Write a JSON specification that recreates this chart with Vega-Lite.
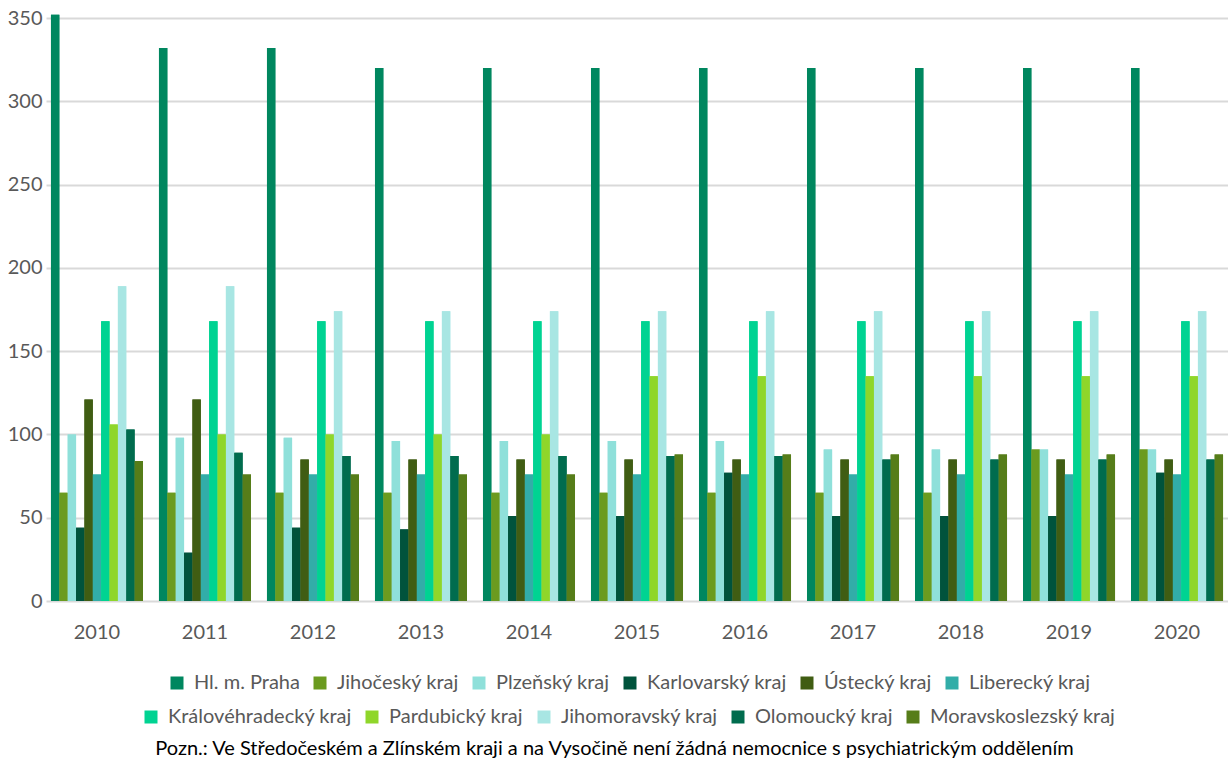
{
  "$schema": "https://vega.github.io/schema/vega-lite/v6.json",
  "width": 1182,
  "height": 583,
  "autosize": {"type": "none"},
  "padding": {"left": 46, "top": 18, "right": 0, "bottom": 159},
  "background": "white",
  "config": {
    "view": {"stroke": null},
    "font": "Lato",
    "axis": {"labelFont": "Lato", "titleFont": "Lato"},
    "legend": {"labelFont": "Lato"}
  },
  "data": {
    "values": [
      {"rok": "2010", "kraj": "Hl. m. Praha", "v": 352},
      {"rok": "2010", "kraj": "Jihočeský kraj", "v": 65},
      {"rok": "2010", "kraj": "Plzeňský kraj", "v": 100},
      {"rok": "2010", "kraj": "Karlovarský kraj", "v": 44},
      {"rok": "2010", "kraj": "Ústecký kraj", "v": 121},
      {"rok": "2010", "kraj": "Liberecký kraj", "v": 76},
      {"rok": "2010", "kraj": "Královéhradecký kraj", "v": 168},
      {"rok": "2010", "kraj": "Pardubický kraj", "v": 106},
      {"rok": "2010", "kraj": "Jihomoravský kraj", "v": 189},
      {"rok": "2010", "kraj": "Olomoucký kraj", "v": 103},
      {"rok": "2010", "kraj": "Moravskoslezský kraj", "v": 84},
      {"rok": "2011", "kraj": "Hl. m. Praha", "v": 332},
      {"rok": "2011", "kraj": "Jihočeský kraj", "v": 65},
      {"rok": "2011", "kraj": "Plzeňský kraj", "v": 98},
      {"rok": "2011", "kraj": "Karlovarský kraj", "v": 29},
      {"rok": "2011", "kraj": "Ústecký kraj", "v": 121},
      {"rok": "2011", "kraj": "Liberecký kraj", "v": 76},
      {"rok": "2011", "kraj": "Královéhradecký kraj", "v": 168},
      {"rok": "2011", "kraj": "Pardubický kraj", "v": 100},
      {"rok": "2011", "kraj": "Jihomoravský kraj", "v": 189},
      {"rok": "2011", "kraj": "Olomoucký kraj", "v": 89},
      {"rok": "2011", "kraj": "Moravskoslezský kraj", "v": 76},
      {"rok": "2012", "kraj": "Hl. m. Praha", "v": 332},
      {"rok": "2012", "kraj": "Jihočeský kraj", "v": 65},
      {"rok": "2012", "kraj": "Plzeňský kraj", "v": 98},
      {"rok": "2012", "kraj": "Karlovarský kraj", "v": 44},
      {"rok": "2012", "kraj": "Ústecký kraj", "v": 85},
      {"rok": "2012", "kraj": "Liberecký kraj", "v": 76},
      {"rok": "2012", "kraj": "Královéhradecký kraj", "v": 168},
      {"rok": "2012", "kraj": "Pardubický kraj", "v": 100},
      {"rok": "2012", "kraj": "Jihomoravský kraj", "v": 174},
      {"rok": "2012", "kraj": "Olomoucký kraj", "v": 87},
      {"rok": "2012", "kraj": "Moravskoslezský kraj", "v": 76},
      {"rok": "2013", "kraj": "Hl. m. Praha", "v": 320},
      {"rok": "2013", "kraj": "Jihočeský kraj", "v": 65},
      {"rok": "2013", "kraj": "Plzeňský kraj", "v": 96},
      {"rok": "2013", "kraj": "Karlovarský kraj", "v": 43},
      {"rok": "2013", "kraj": "Ústecký kraj", "v": 85},
      {"rok": "2013", "kraj": "Liberecký kraj", "v": 76},
      {"rok": "2013", "kraj": "Královéhradecký kraj", "v": 168},
      {"rok": "2013", "kraj": "Pardubický kraj", "v": 100},
      {"rok": "2013", "kraj": "Jihomoravský kraj", "v": 174},
      {"rok": "2013", "kraj": "Olomoucký kraj", "v": 87},
      {"rok": "2013", "kraj": "Moravskoslezský kraj", "v": 76},
      {"rok": "2014", "kraj": "Hl. m. Praha", "v": 320},
      {"rok": "2014", "kraj": "Jihočeský kraj", "v": 65},
      {"rok": "2014", "kraj": "Plzeňský kraj", "v": 96},
      {"rok": "2014", "kraj": "Karlovarský kraj", "v": 51},
      {"rok": "2014", "kraj": "Ústecký kraj", "v": 85},
      {"rok": "2014", "kraj": "Liberecký kraj", "v": 76},
      {"rok": "2014", "kraj": "Královéhradecký kraj", "v": 168},
      {"rok": "2014", "kraj": "Pardubický kraj", "v": 100},
      {"rok": "2014", "kraj": "Jihomoravský kraj", "v": 174},
      {"rok": "2014", "kraj": "Olomoucký kraj", "v": 87},
      {"rok": "2014", "kraj": "Moravskoslezský kraj", "v": 76},
      {"rok": "2015", "kraj": "Hl. m. Praha", "v": 320},
      {"rok": "2015", "kraj": "Jihočeský kraj", "v": 65},
      {"rok": "2015", "kraj": "Plzeňský kraj", "v": 96},
      {"rok": "2015", "kraj": "Karlovarský kraj", "v": 51},
      {"rok": "2015", "kraj": "Ústecký kraj", "v": 85},
      {"rok": "2015", "kraj": "Liberecký kraj", "v": 76},
      {"rok": "2015", "kraj": "Královéhradecký kraj", "v": 168},
      {"rok": "2015", "kraj": "Pardubický kraj", "v": 135},
      {"rok": "2015", "kraj": "Jihomoravský kraj", "v": 174},
      {"rok": "2015", "kraj": "Olomoucký kraj", "v": 87},
      {"rok": "2015", "kraj": "Moravskoslezský kraj", "v": 88},
      {"rok": "2016", "kraj": "Hl. m. Praha", "v": 320},
      {"rok": "2016", "kraj": "Jihočeský kraj", "v": 65},
      {"rok": "2016", "kraj": "Plzeňský kraj", "v": 96},
      {"rok": "2016", "kraj": "Karlovarský kraj", "v": 77},
      {"rok": "2016", "kraj": "Ústecký kraj", "v": 85},
      {"rok": "2016", "kraj": "Liberecký kraj", "v": 76},
      {"rok": "2016", "kraj": "Královéhradecký kraj", "v": 168},
      {"rok": "2016", "kraj": "Pardubický kraj", "v": 135},
      {"rok": "2016", "kraj": "Jihomoravský kraj", "v": 174},
      {"rok": "2016", "kraj": "Olomoucký kraj", "v": 87},
      {"rok": "2016", "kraj": "Moravskoslezský kraj", "v": 88},
      {"rok": "2017", "kraj": "Hl. m. Praha", "v": 320},
      {"rok": "2017", "kraj": "Jihočeský kraj", "v": 65},
      {"rok": "2017", "kraj": "Plzeňský kraj", "v": 91},
      {"rok": "2017", "kraj": "Karlovarský kraj", "v": 51},
      {"rok": "2017", "kraj": "Ústecký kraj", "v": 85},
      {"rok": "2017", "kraj": "Liberecký kraj", "v": 76},
      {"rok": "2017", "kraj": "Královéhradecký kraj", "v": 168},
      {"rok": "2017", "kraj": "Pardubický kraj", "v": 135},
      {"rok": "2017", "kraj": "Jihomoravský kraj", "v": 174},
      {"rok": "2017", "kraj": "Olomoucký kraj", "v": 85},
      {"rok": "2017", "kraj": "Moravskoslezský kraj", "v": 88},
      {"rok": "2018", "kraj": "Hl. m. Praha", "v": 320},
      {"rok": "2018", "kraj": "Jihočeský kraj", "v": 65},
      {"rok": "2018", "kraj": "Plzeňský kraj", "v": 91},
      {"rok": "2018", "kraj": "Karlovarský kraj", "v": 51},
      {"rok": "2018", "kraj": "Ústecký kraj", "v": 85},
      {"rok": "2018", "kraj": "Liberecký kraj", "v": 76},
      {"rok": "2018", "kraj": "Královéhradecký kraj", "v": 168},
      {"rok": "2018", "kraj": "Pardubický kraj", "v": 135},
      {"rok": "2018", "kraj": "Jihomoravský kraj", "v": 174},
      {"rok": "2018", "kraj": "Olomoucký kraj", "v": 85},
      {"rok": "2018", "kraj": "Moravskoslezský kraj", "v": 88},
      {"rok": "2019", "kraj": "Hl. m. Praha", "v": 320},
      {"rok": "2019", "kraj": "Jihočeský kraj", "v": 91},
      {"rok": "2019", "kraj": "Plzeňský kraj", "v": 91},
      {"rok": "2019", "kraj": "Karlovarský kraj", "v": 51},
      {"rok": "2019", "kraj": "Ústecký kraj", "v": 85},
      {"rok": "2019", "kraj": "Liberecký kraj", "v": 76},
      {"rok": "2019", "kraj": "Královéhradecký kraj", "v": 168},
      {"rok": "2019", "kraj": "Pardubický kraj", "v": 135},
      {"rok": "2019", "kraj": "Jihomoravský kraj", "v": 174},
      {"rok": "2019", "kraj": "Olomoucký kraj", "v": 85},
      {"rok": "2019", "kraj": "Moravskoslezský kraj", "v": 88},
      {"rok": "2020", "kraj": "Hl. m. Praha", "v": 320},
      {"rok": "2020", "kraj": "Jihočeský kraj", "v": 91},
      {"rok": "2020", "kraj": "Plzeňský kraj", "v": 91},
      {"rok": "2020", "kraj": "Karlovarský kraj", "v": 77},
      {"rok": "2020", "kraj": "Ústecký kraj", "v": 85},
      {"rok": "2020", "kraj": "Liberecký kraj", "v": 76},
      {"rok": "2020", "kraj": "Královéhradecký kraj", "v": 168},
      {"rok": "2020", "kraj": "Pardubický kraj", "v": 135},
      {"rok": "2020", "kraj": "Jihomoravský kraj", "v": 174},
      {"rok": "2020", "kraj": "Olomoucký kraj", "v": 85},
      {"rok": "2020", "kraj": "Moravskoslezský kraj", "v": 88}
    ]
  },
  "encoding": {
    "x": {
      "field": "rok",
      "type": "nominal",
      "scale": {"paddingInner": 0.148, "paddingOuter": 0.046},
      "axis": {
        "labelAngle": 0,
        "domain": false,
        "ticks": false,
        "labelPadding": 21,
        "labelFontSize": 20,
        "labelColor": "#595959",
        "title": "Pozn.: Ve Středočeském a Zlínském kraji a na Vysočině není žádná nemocnice s psychiatrickým oddělením",
        "titleFontSize": 20,
        "titleFontWeight": "normal",
        "titleColor": "#000000",
        "titleBaseline": "middle",
        "titleAlign": "center",
        "titleX": 568,
        "titleY": 147
      }
    },
    "xOffset": {
      "field": "kraj",
      "type": "nominal",
      "scale": {
        "domain": ["Hl. m. Praha", "Jihočeský kraj", "Plzeňský kraj", "Karlovarský kraj", "Ústecký kraj", "Liberecký kraj", "Královéhradecký kraj", "Pardubický kraj", "Jihomoravský kraj", "Olomoucký kraj", "Moravskoslezský kraj"],
        "paddingInner": 0,
        "paddingOuter": 0
      }
    },
    "y": {
      "field": "v",
      "type": "quantitative",
      "scale": {"domain": [0, 350], "nice": false},
      "axis": {
        "title": null,
        "values": [0, 50, 100, 150, 200, 250, 300, 350],
        "domain": false,
        "ticks": false,
        "labelPadding": 4,
        "labelFontSize": 20,
        "labelColor": "#595959",
        "gridColor": "#d9d9d9",
        "gridWidth": 2
      }
    }
  },
  "layer": [
    {
      "mark": {"type": "bar"},
      "encoding": {
        "color": {
          "field": "kraj",
          "type": "nominal",
          "scale": {
            "domain": ["Hl. m. Praha", "Jihočeský kraj", "Plzeňský kraj", "Karlovarský kraj", "Ústecký kraj", "Liberecký kraj", "Královéhradecký kraj", "Pardubický kraj", "Jihomoravský kraj", "Olomoucký kraj", "Moravskoslezský kraj"],
            "range": ["#00875F", "#6B9B1F", "#8FE0DA", "#00533C", "#405D13", "#32ADA8", "#00D392", "#8FD62A", "#A8E6E3", "#006C4E", "#567D19"]
          },
          "legend": {
            "title": null,
            "orient": "none",
            "direction": "horizontal",
            "legendX": 121,
            "legendY": 655,
            "padding": 0,
            "values": ["Hl. m. Praha", "Jihočeský kraj", "Plzeňský kraj", "Karlovarský kraj", "Ústecký kraj", "Liberecký kraj"],
            "symbolType": "square",
            "symbolSize": 169,
            "symbolStrokeWidth": 0,
            "labelFontSize": 20,
            "labelColor": "#595959",
            "labelOffset": 7,
            "columnPadding": 10,
            "labelLimit": 400
          }
        }
      }
    },
    {
      "mark": {"type": "bar"},
      "encoding": {
        "fill": {
          "field": "kraj",
          "type": "nominal",
          "scale": {
            "domain": ["Královéhradecký kraj", "Pardubický kraj", "Jihomoravský kraj", "Olomoucký kraj", "Moravskoslezský kraj", "Hl. m. Praha", "Jihočeský kraj", "Plzeňský kraj", "Karlovarský kraj", "Ústecký kraj", "Liberecký kraj"],
            "range": ["#00D392", "#8FD62A", "#A8E6E3", "#006C4E", "#567D19", "#00875F", "#6B9B1F", "#8FE0DA", "#00533C", "#405D13", "#32ADA8"]
          },
          "legend": {
            "title": null,
            "orient": "none",
            "direction": "horizontal",
            "legendX": 95,
            "legendY": 689,
            "padding": 0,
            "values": ["Královéhradecký kraj", "Pardubický kraj", "Jihomoravský kraj", "Olomoucký kraj", "Moravskoslezský kraj"],
            "symbolType": "square",
            "symbolSize": 169,
            "symbolStrokeWidth": 0,
            "labelFontSize": 20,
            "labelColor": "#595959",
            "labelOffset": 7,
            "columnPadding": 10,
            "labelLimit": 400
          }
        }
      }
    }
  ]
}
